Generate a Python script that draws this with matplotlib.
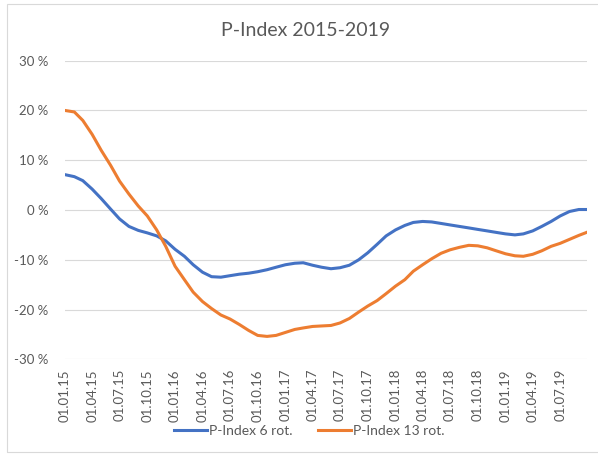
import pandas as pd
import matplotlib.pyplot as plt
from matplotlib.patches import Rectangle

plt.rcParams['font.family'] = ['Lato', 'DejaVu Sans']

# monthly values in %, Jan 2015 .. Oct 2019
datum = pd.date_range('2015-01-01', periods=58, freq='MS')
p6 = [7.1, 6.7, 5.9, 4.2, 2.3, 0.2, -1.8, -3.3, -4.1, -4.6,
      -5.2, -6.2, -7.9, -9.3, -11.0, -12.5, -13.4, -13.5, -13.2, -12.9,
      -12.7, -12.4, -12.0, -11.5, -11.0, -10.7, -10.6, -11.1, -11.5, -11.8,
      -11.6, -11.1, -10.0, -8.6, -6.9, -5.2, -4.0, -3.1, -2.5, -2.3,
      -2.4, -2.7, -3.0, -3.3, -3.6, -3.9, -4.2, -4.5, -4.8, -5.0,
      -4.8, -4.2, -3.3, -2.3, -1.2, -0.3, 0.1, 0.1]
p13 = [20.0, 19.7, 18.0, 15.2, 12.0, 9.0, 5.8, 3.2, 0.8, -1.2,
       -4.0, -7.3, -11.3, -14.0, -16.5, -18.4, -19.8, -21.1, -21.9, -23.0,
       -24.2, -25.2, -25.4, -25.2, -24.6, -24.0, -23.7, -23.4, -23.3, -23.2,
       -22.7, -21.8, -20.5, -19.3, -18.2, -16.8, -15.3, -14.0, -12.3, -11.0,
       -9.8, -8.7, -8.0, -7.5, -7.1, -7.2, -7.6, -8.2, -8.8, -9.2,
       -9.3, -8.9, -8.2, -7.3, -6.7, -5.9, -5.1, -4.4]
etykiety = pd.date_range('2015-01-01', '2019-07-01', freq='QS')

szary = '#595959'
fig = plt.figure(figsize=(5.98, 4.54), dpi=100)
ax = fig.add_axes([65/598, 1 - 359.3/454, 522/598, 298.6/454])

ax.plot(datum, p6, color='#4472C4', lw=2.2, label='P-Index 6 rot.')
ax.plot(datum, p13, color='#ED7D31', lw=2.2, label='P-Index 13 rot.')

ax.set_xlim(datum[0], pd.Timestamp('2019-09-28'))
ax.set_ylim(-30, 30)
ax.set_yticks(range(-30, 31, 10))
ax.set_yticklabels([f'{v} %' for v in range(-30, 31, 10)])
ax.set_xticks(etykiety)
ax.set_xticklabels([d.strftime('%d.%m.%y') for d in etykiety], rotation=90)
ax.tick_params(length=0, colors=szary, labelsize=9.5)
ax.tick_params(axis='y', pad=12)
ax.tick_params(axis='x', pad=7)
ax.grid(axis='y', color='#d9d9d9', lw=0.8)
ax.set_axisbelow(True)
for s in ax.spines.values():
    s.set_visible(False)

fig.text(306/598, 1 - 31/454, 'P-Index 2015-2019', ha='center', va='center',
         fontsize=14, color=szary)
fig.legend(loc='center', bbox_to_anchor=(309/598, 1 - 431/454), ncol=2,
           frameon=False, fontsize=10, handlelength=2.4, columnspacing=1.8,
           handletextpad=0.15, labelcolor=szary)

# ramka wykresu
fig.patches.append(Rectangle((7/598, 1 - 452/454), 1.0, 448/454, transform=fig.transFigure,
                             fill=False, edgecolor='#d9d9d9', lw=0.8))

plt.savefig('out.png', dpi=100)
